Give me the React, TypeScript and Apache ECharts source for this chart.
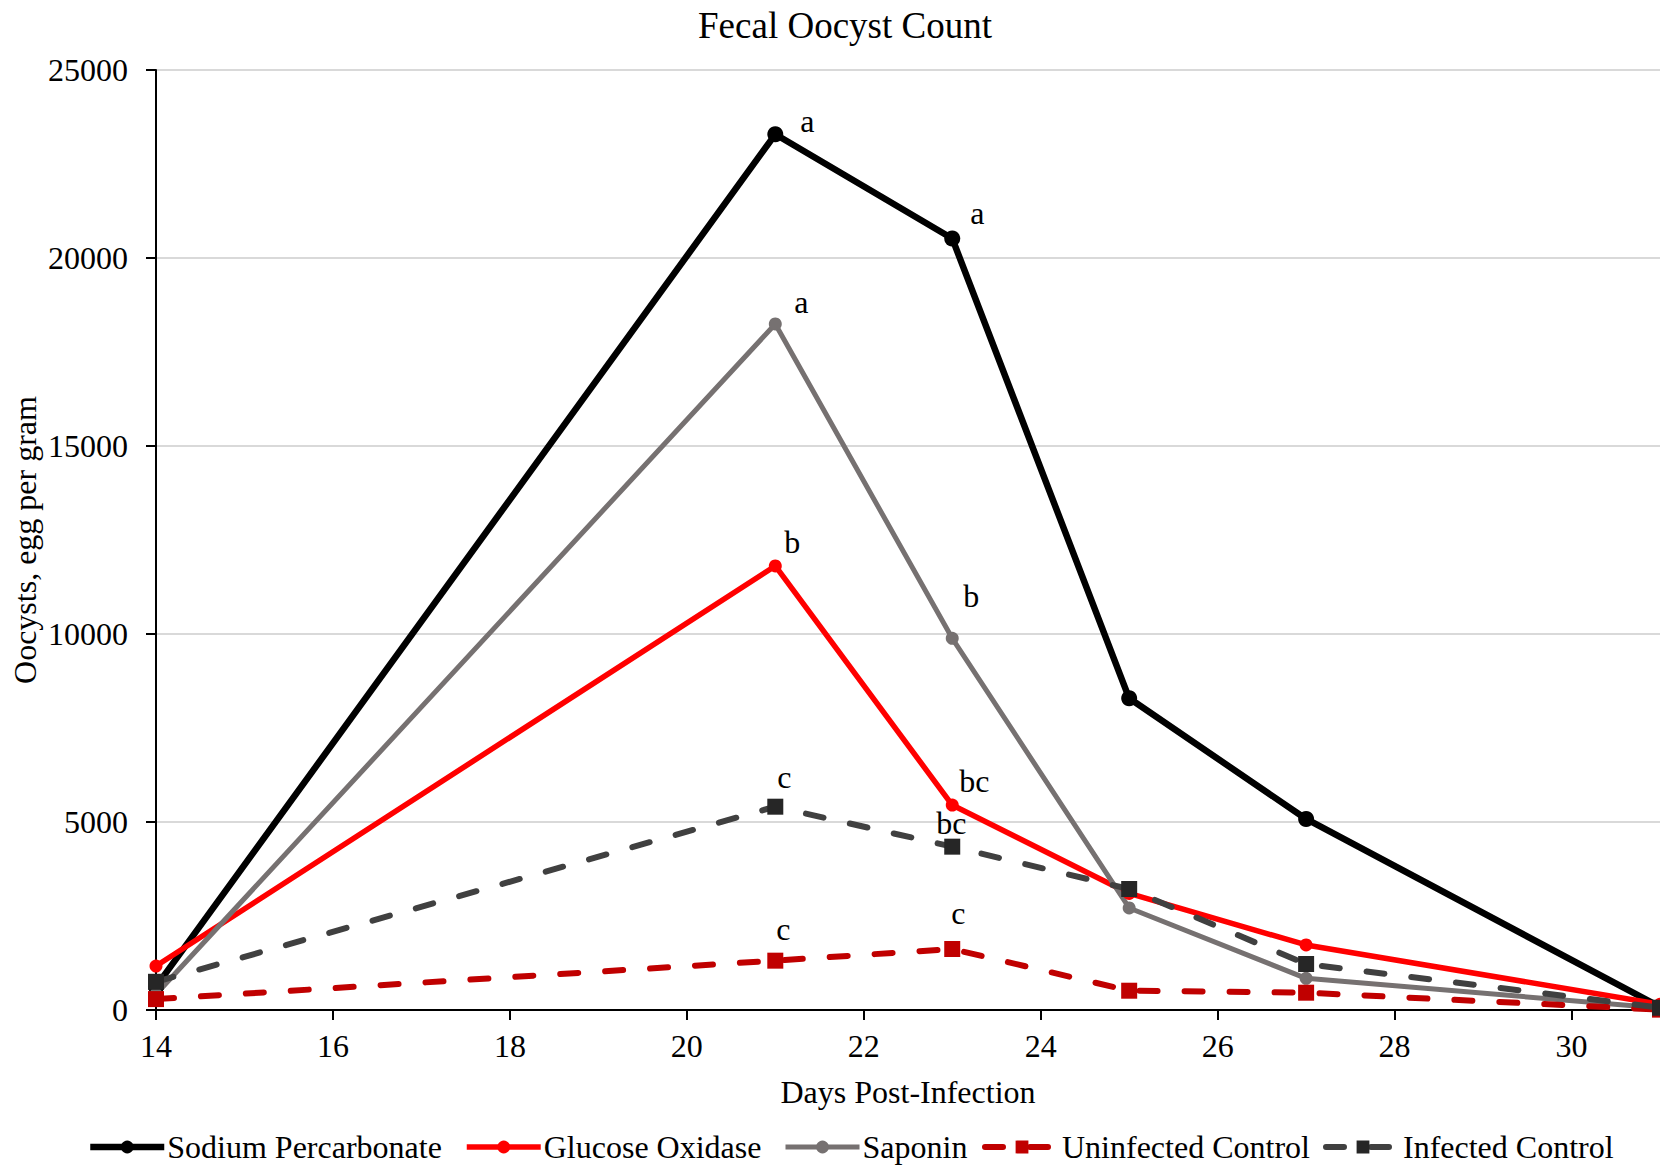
import React, { useEffect, useRef } from "react";
import * as echarts from "echarts";

const days = [14, 21, 23, 25, 27, 31];
const sodiumPercarbonate = [620, 23290, 20520, 8290, 5080, 80];
const glucoseOxidase = [1170, 11810, 5450, 3100, 1730, 150];
const saponin = [420, 18245, 9885, 2713, 843, 50];
const uninfectedControl = [290, 1312, 1622, 513, 460, 10];
const infectedControl = [750, 5407, 4344, 3218, 1223, 60];

const spLetters = ["", "a", "a", "", "", ""];
const goLetters = ["", "b", "bc", "", "", ""];
const sapLetters = ["", "a", "b", "", "", ""];
const ucLetters = ["", "c", "c", "", "", ""];
const icLetters = ["", "c", "bc", "", "", ""];

const seriesNames = [
  "Sodium Percarbonate",
  "Glucose Oxidase",
  "Saponin",
  "Uninfected Control",
  "Infected Control",
];
const yTicks = { min: 0, max: 25000, interval: 5000 };
const xTicks = { min: 14, max: 31, interval: 2 };
const chartTitle = "Fecal Oocyst Count";
const xTitle = "Days Post-Infection";
const yTitle = "Oocysts, egg per gram";

const FONT = '"Liberation Serif", "Times New Roman", serif';

// label offsets (style only)
const spOffsets = [null, [32, -13], [25, -25], null, null, null];
const goOffsets = [null, [17, -24], [22, -24], null, null, null];
const sapOffsets = [null, [26, -22], [19, -42], null, null, null];
const ucOffsets = [null, [8, -32], [6, -36], null, null, null];
const icOffsets = [null, [9, -30], [-1, -24], null, null, null];

// legend item left positions (layout only)
const legendLefts = [87, 464, 783, 982, 1323];

function buildData(values: number[], letters: string[], offsets: any[]) {
  return days.map((d, i) => {
    const item: any = { value: [d, values[i]] };
    if (letters[i]) {
      item.label = {
        show: true,
        formatter: letters[i],
        position: "inside",
        offset: offsets[i],
        color: "#000",
        fontFamily: FONT,
        fontSize: 32,
      };
    }
    return item;
  });
}

export default function App() {
  const ref = useRef<HTMLDivElement>(null);
  useEffect(() => {
    if (!ref.current) return;
    const chart = echarts.init(ref.current, null, { renderer: "svg" });
    const lineBase = (
      name: string,
      values: number[],
      letters: string[],
      offsets: any[],
      color: string,
      markerColor: string,
      symbol: string,
      symbolSize: number,
      width: number,
      dashed: boolean
    ) => ({
      name,
      type: "line",
      data: buildData(values, letters, offsets),
      symbol,
      symbolSize,
      showSymbol: true,
      itemStyle: { color: markerColor, borderWidth: 0 },
      lineStyle: {
        color,
        width,
        type: dashed ? [18, 27] : "solid",
        cap: dashed ? "round" : "butt",
        join: "round",
      },
      label: { show: false },
      emphasis: { disabled: true },
      clip: true,
    });
    chart.setOption({
      animation: false,
      textStyle: { fontFamily: FONT },
      grid: { left: 156, right: -3, top: 70, bottom: 156, containLabel: false },
      xAxis: {
        type: "value",
        min: xTicks.min,
        max: xTicks.max,
        interval: xTicks.interval,
        axisLine: { show: true, lineStyle: { color: "#000", width: 2 } },
        axisTick: { show: true, length: 10, lineStyle: { color: "#000", width: 2 } },
        axisLabel: {
          color: "#000",
          fontFamily: FONT,
          fontSize: 32,
          margin: 20,
          showMaxLabel: false,
        },
        splitLine: { show: false },
        name: xTitle,
        nameLocation: "middle",
        nameGap: 66,
        nameTextStyle: { color: "#000", fontFamily: FONT, fontSize: 32 },
      },
      yAxis: {
        type: "value",
        min: yTicks.min,
        max: yTicks.max,
        interval: yTicks.interval,
        axisLine: { show: true, lineStyle: { color: "#000", width: 2 } },
        axisTick: { show: true, length: 10, lineStyle: { color: "#000", width: 2 } },
        axisLabel: {
          color: "#000",
          fontFamily: FONT,
          fontSize: 32,
          margin: 28,
          formatter: (v: number) => String(v),
        },
        splitLine: { show: true, lineStyle: { color: "#D9D9D9", width: 2 } },
      },
      legend: seriesNames.map((n, i) => ({
        left: legendLefts[i],
        top: 1131,
        padding: 0,
        itemWidth: 74,
        itemHeight: 16,
        itemGap: 0,
        lineStyle: { width: "inherit" },
        textStyle: { color: "#000", fontFamily: FONT, fontSize: 32, padding: [0, 0, 0, -2] },
        data: [n],
      })),
      graphic: [
        {
          type: "text",
          x: 845,
          y: 25,
          style: {
            text: chartTitle,
            fill: "#000",
            font: `37px ${FONT}`,
            textAlign: "center",
            textVerticalAlign: "middle",
          },
        },
        {
          type: "text",
          x: 25,
          y: 540,
          rotation: Math.PI / 2,
          style: {
            text: yTitle,
            fill: "#000",
            font: `32px ${FONT}`,
            textAlign: "center",
            textVerticalAlign: "middle",
          },
        },
      ],
      series: [
        lineBase(seriesNames[0], sodiumPercarbonate, spLetters, spOffsets, "#000000", "#000000", "circle", 16, 6.5, false),
        lineBase(seriesNames[1], glucoseOxidase, goLetters, goOffsets, "#FF0000", "#FF0000", "circle", 13, 5.5, false),
        lineBase(seriesNames[2], saponin, sapLetters, sapOffsets, "#767171", "#767171", "circle", 13, 5, false),
        lineBase(seriesNames[3], uninfectedControl, ucLetters, ucOffsets, "#C00000", "#C00000", "rect", 16, 6, true),
        lineBase(seriesNames[4], infectedControl, icLetters, icOffsets, "#404040", "#262626", "rect", 16, 6, true),
      ],
    });
    return () => chart.dispose();
  }, []);
  return (
    <div style={{ position: "fixed", left: 0, top: 0, width: 1660, height: 1166, overflow: "hidden", background: "#fff" }}>
      <div ref={ref} style={{ width: 1660, height: 1166 }} />
    </div>
  );
}
